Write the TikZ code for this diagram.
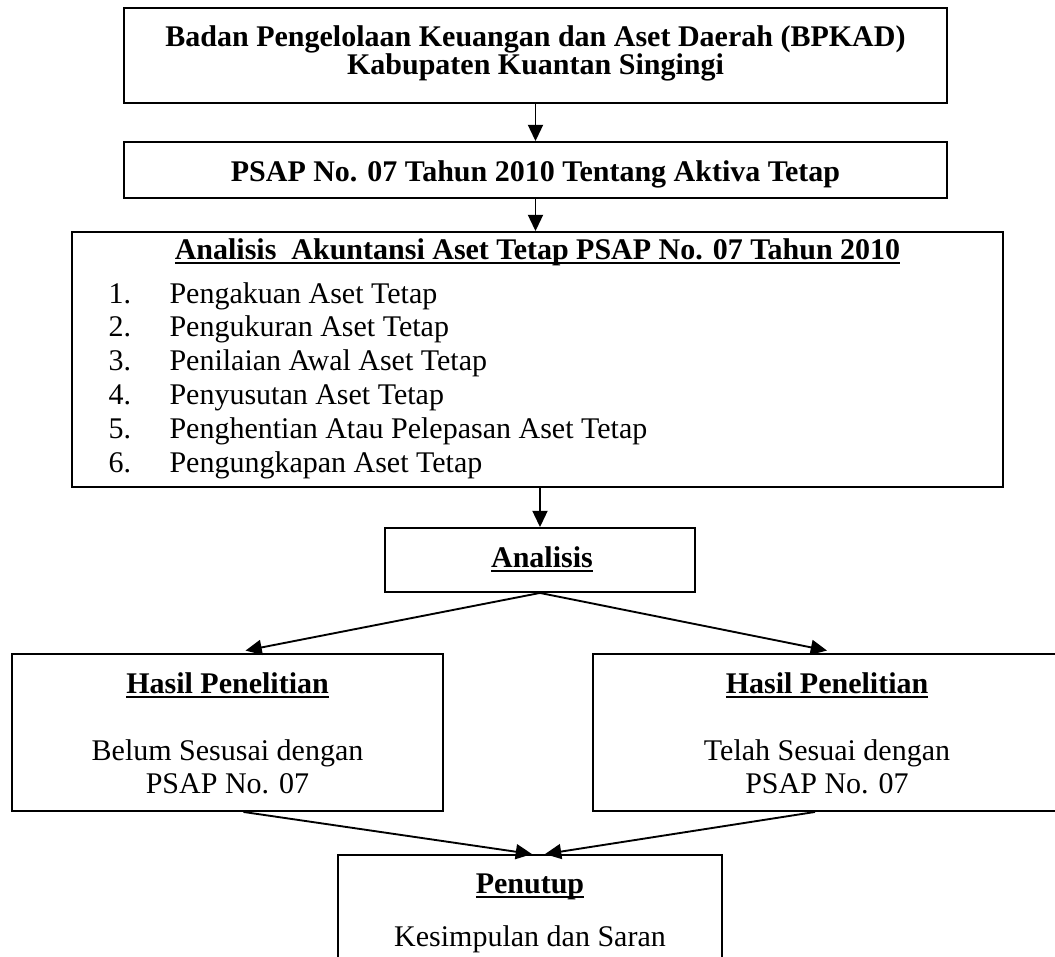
\documentclass[tikz,border=0pt]{standalone}
\usepackage{fontspec}
\setmainfont{Liberation Serif}
\usetikzlibrary{arrows.meta,calc}
\newcommand\myul[1]{\setbox0\hbox{#1}\rlap{\rule[-2pt]{\wd0}{0.7pt}}\box0}
\begin{document}
\begin{tikzpicture}[x=0.4pt,y=-0.4pt,
  box/.style 2 args={draw,line width=0.75pt,rectangle,inner sep=0pt,
    minimum width=#1*0.4pt,minimum height=#2*0.4pt},
  txt/.style={inner sep=0pt,anchor=base,font=\fontsize{12}{13}\selectfont},
  bt/.style={txt,font=\fontsize{12}{13}\selectfont\bfseries},
  lt/.style={txt,anchor=base west},
  arr/.style={line width=0.75pt,-{Triangle[length=6.5pt,width=6pt]}}]
\useasboundingbox (0,0) rectangle (1055,956);

% boxes
\node[box={823}{95}]  (b1) at (535.5,55.5) {};
\node[box={823}{56}]  (b2) at (535.5,170) {};
\node[box={931}{255}] (b3) at (537.5,359.5) {};
\node[box={310}{64}]  (an) at (540,560) {};
\node[box={431}{157}] (hl) at (227.5,732.5) {};
\node[box={468}{157}] (hr) at (827,732.5) {};
\node[box={384}{157}] (pe) at (530,933.5) {};

% texts
\node[bt] (t1a) at (535.5,46) {Badan Pengelolaan Keuangan dan Aset Daerah (BPKAD)};
\node[bt] (t1b) at (535.5,74) {Kabupaten Kuantan Singingi};
\node[bt] (t2) at (535.5,181) {PSAP No. 07 Tahun 2010 Tentang Aktiva Tetap};
\node[bt] (t3) at (537.5,259) {\myul{Analisis\ \ Akuntansi Aset Tetap PSAP No. 07 Tahun 2010}};
\foreach \i/\s in {1/Pengakuan Aset Tetap,2/Pengukuran Aset Tetap,3/Penilaian Awal Aset Tetap,4/Penyusutan Aset Tetap,5/Penghentian Atau Pelepasan Aset Tetap,6/Pengungkapan Aset Tetap}{
  \node[lt] (n\i) at (108,{303+33.8*(\i-1)}) {\i.};
  \node[lt] (i\i) at (169,{303+33.8*(\i-1)}) {\s};
}
\node[bt] (ta) at (542,567) {\myul{Analisis}};
\node[bt] (hlt) at (227.5,693) {\myul{Hasil Penelitian}};
\node[txt] (hl1) at (227.5,760) {Belum Sesusai dengan};
\node[txt] (hl2) at (227.5,793) {PSAP No. 07};
\node[bt] (hrt) at (827,693) {\myul{Hasil Penelitian}};
\node[txt] (hr1) at (827,760) {Telah Sesuai dengan};
\node[txt] (hr2) at (827,793) {PSAP No. 07};
\node[bt] (pet) at (530,893) {\myul{Penutup}};
\node[txt] (pe1) at (530,946) {Kesimpulan dan Saran};

% connectors
\draw[arr] (b1.south) -- (b2.north);
\draw[arr] (b2.south) -- (b2.south |- b3.north);
\draw[arr] (an.north |- b3.south) -- (an.north);
\draw[arr] (an.south) -- ([xshift=7.2pt,yshift=1pt]hl.north);
\draw[arr] (an.south) -- ([yshift=1pt]hr.north);
\draw[arr] ([xshift=6.4pt]hl.south) -- ([xshift=0.8pt]pe.north);
\draw[arr] ([xshift=-4.8pt]hr.south) -- ([xshift=6pt]pe.north);
\end{tikzpicture}
\end{document}
